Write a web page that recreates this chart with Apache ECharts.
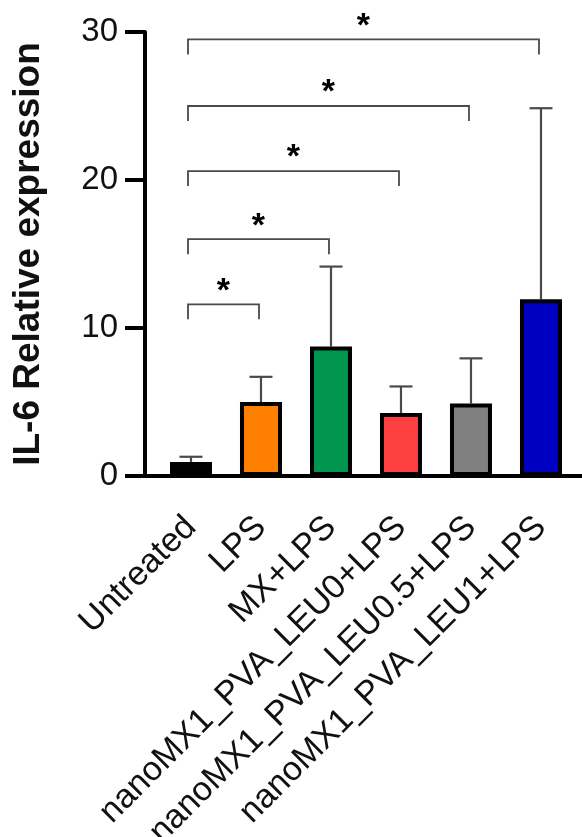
<!DOCTYPE html>
<html>
<head>
<meta charset="utf-8">
<script src="https://cdn.jsdelivr.net/npm/echarts@6/dist/echarts.min.js"></script>
<style>
  html, body { margin: 0; padding: 0; background: #fff; }
  #chart { width: 582px; height: 837px; }
</style>
</head>
<body>
<div id="chart"></div>
<script>
// data
const categories = ["Untreated", "LPS", "MX+LPS", "nanoMX1_PVA_LEU0+LPS", "nanoMX1_PVA_LEU0.5+LPS", "nanoMX1_PVA_LEU1+LPS"];
const means = [0.95, 5.0, 8.75, 4.25, 4.9, 11.95];
const errors = [0.35, 1.7, 5.4, 1.8, 3.05, 12.9];
const barColors = ["#000000", "#FF8000", "#009650", "#FF4040", "#808080", "#0000C0"];
const yTicks = [0, 10, 20, 30];
// significance brackets: [from index, to index, height]
const brackets = [
  [0, 1, 11.6],
  [0, 2, 16.0],
  [0, 3, 20.6],
  [0, 4, 25.0],
  [0, 5, 29.5]
];

const FONT = "'Liberation Sans', Arial, sans-serif";

let chart = echarts.init(document.getElementById("chart"));

chart.setOption({
  animation: false,
  grid: { left: 145, right: 0, top: 32, bottom: 361, outerBoundsMode: "none", containLabel: false },
  xAxis: {
    type: "value",
    min: -0.657,
    max: 5.586,
    splitLine: { show: false },
    axisLine: { show: true, onZero: false, lineStyle: { color: "#000", width: 4 } },
    axisTick: { show: false },
    axisLabel: {
      customValues: categories.map((c, i) => i),
      formatter: (v) => categories[Math.round(v)],
      rotate: 45,
      margin: 46,
      fontSize: 34,
      fontFamily: FONT,
      color: "#111"
    }
  },
  yAxis: {
    type: "value",
    min: 0,
    max: 30,
    interval: 10,
    name: "IL-6 Relative expression",
    nameLocation: "middle",
    nameRotate: 90,
    nameGap: 98,
    nameTextStyle: { fontSize: 37, fontWeight: "bold", fontFamily: FONT, color: "#111" },
    splitLine: { show: false },
    axisLine: { show: true, onZero: false, lineStyle: { color: "#000", width: 4 } },
    axisTick: { show: true, length: 20, lineStyle: { color: "#000", width: 4 } },
    axisLabel: {
      customValues: yTicks,
      margin: 27,
      fontSize: 33,
      fontFamily: FONT,
      color: "#111"
    }
  },
  series: [
    {
      // error bars (upper whisker only)
      type: "custom",
      z: 1,
      data: means.map((m, i) => [i, m, errors[i]]),
      renderItem: function (params, api) {
        let base = api.coord([api.value(0), api.value(1)]);
        let top = api.coord([api.value(0), api.value(1) + api.value(2)]);
        let st = { stroke: "#4a4a4a", lineWidth: 2.2 };
        return {
          type: "group",
          children: [
            { type: "line", shape: { x1: base[0], y1: base[1], x2: top[0], y2: top[1] }, style: st },
            { type: "line", shape: { x1: top[0] - 11.5, y1: top[1], x2: top[0] + 11.5, y2: top[1] }, style: st }
          ]
        };
      }
    },
    {
      type: "bar",
      z: 2,
      barWidth: 42,
      data: means.map((m, i) => ({
        value: [i, m],
        itemStyle: { color: barColors[i], borderColor: "#000", borderWidth: 4 }
      }))
    },
    {
      // significance brackets with asterisks
      type: "custom",
      z: 3,
      data: brackets,
      renderItem: function (params, api) {
        let p1 = api.coord([api.value(0), api.value(2)]);
        let p2 = api.coord([api.value(1), api.value(2)]);
        let x1 = p1[0] - 3, x2 = p2[0] - 2, y = p1[1];
        return {
          type: "group",
          children: [
            {
              type: "polyline",
              shape: { points: [[x1, y + 15], [x1, y], [x2, y], [x2, y + 15]] },
              style: { stroke: "#4a4a4a", lineWidth: 1.8, fill: null }
            },
            {
              type: "text",
              style: {
                text: "*",
                x: (x1 + x2) / 2,
                y: y - 13,
                align: "center",
                verticalAlign: "middle",
                fontSize: 34,
                fontWeight: "bold",
                fontFamily: FONT,
                fill: "#000"
              }
            }
          ]
        };
      }
    }
  ]
});
</script>
</body>
</html>
